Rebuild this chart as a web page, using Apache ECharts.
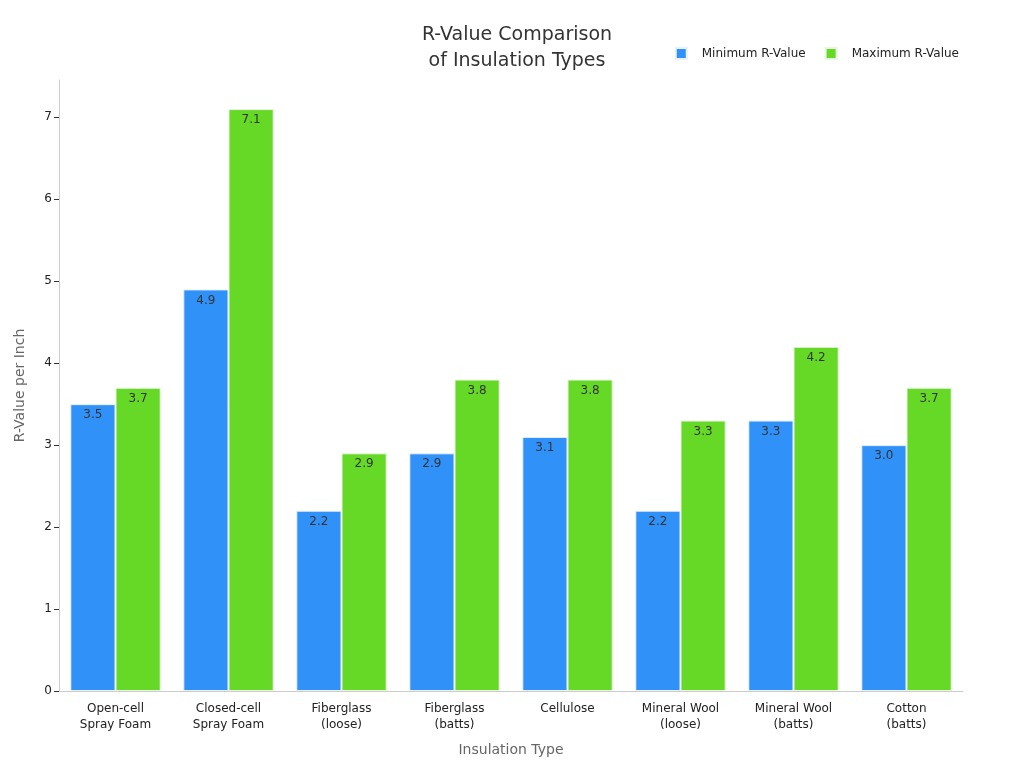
<!DOCTYPE html>
<html>
<head>
<meta charset="utf-8">
<script src="https://cdn.jsdelivr.net/npm/echarts@6/dist/echarts.min.js"></script>
<style>
  html, body { margin: 0; padding: 0; background: #fff; }
  #chart { width: 1024px; height: 768px; }
</style>
</head>
<body>
<div id="chart"></div>
<script>
// R-value comparison, grouped bars
var categories = ['Open-cell\nSpray Foam', 'Closed-cell\nSpray Foam', 'Fiberglass\n(loose)', 'Fiberglass\n(batts)',
                  'Cellulose', 'Mineral Wool\n(loose)', 'Mineral Wool\n(batts)', 'Cotton\n(batts)'];
var minValues = [3.5, 4.9, 2.2, 2.9, 3.1, 2.2, 3.3, 3.0];
var maxValues = [3.7, 7.1, 2.9, 3.8, 3.8, 3.3, 4.2, 3.7];

var chart = echarts.init(document.getElementById('chart'));
var font = 'DejaVu Sans';

var option = {
    textStyle: { fontFamily: font },
    title: {
        text: 'R-Value Comparison\nof Insulation Types',
        left: 512,
        textAlign: 'center',
        top: 17,
        textStyle: { fontFamily: font, fontSize: 19, fontWeight: 'normal', color: '#333', lineHeight: 26 }
    },
    legend: {
        data: ['Minimum R-Value', 'Maximum R-Value'],
        right: 60,
        top: 42,
        icon: 'rect',
        itemWidth: 11,
        itemHeight: 11,
        itemGap: 19,
        textStyle: { fontFamily: font, fontSize: 12, color: '#222', padding: [0, 0, 0, 10] }
    },
    grid: {
        left: 59,
        right: 61,
        top: 80,
        bottom: 77
    },
    xAxis: {
        type: 'category',
        data: categories,
        name: 'Insulation Type',
        nameLocation: 'middle',
        nameGap: 52,
        nameTextStyle: { fontFamily: font, fontSize: 14, color: '#666' },
        axisLine: { lineStyle: { color: '#ccc' } },
        axisTick: { alignWithLabel: true, lineStyle: { color: '#333' } },
        axisLabel: { fontFamily: font, fontSize: 12, color: '#222', lineHeight: 16, interval: 0, margin: 10 }
    },
    yAxis: {
        type: 'value',
        min: 0,
        max: 7.455,
        interval: 1,
        name: 'R-Value per Inch',
        nameLocation: 'middle',
        nameGap: 32,
        nameTextStyle: { fontFamily: font, fontSize: 14, color: '#666' },
        axisLine: { show: true, lineStyle: { color: '#ccc' } },
        axisTick: { show: true, lineStyle: { color: '#333' } },
        splitLine: { show: false },
        axisLabel: {
            fontFamily: font, fontSize: 12, color: '#222', margin: 7,
            showMaxLabel: false
        }
    },
    series: [
        {
            name: 'Minimum R-Value',
            type: 'bar',
            data: minValues,
            barGap: '0%',
            barCategoryGap: '20%',
            itemStyle: { color: '#3092f9', borderColor: '#e8f0f8', borderWidth: 1 },
            label: {
                show: true, position: 'insideTop', distance: 5,
                color: '#333', fontFamily: font, fontSize: 12,
                formatter: function (p) { return p.value.toFixed(1); }
            }
        },
        {
            name: 'Maximum R-Value',
            type: 'bar',
            data: maxValues,
            itemStyle: { color: '#66d927', borderColor: '#e8f5e0', borderWidth: 1 },
            label: {
                show: true, position: 'insideTop', distance: 5,
                color: '#333', fontFamily: font, fontSize: 12,
                formatter: function (p) { return p.value.toFixed(1); }
            }
        }
    ]
};

chart.setOption(option);
window.onresize = function () { chart.resize(); };
</script>
</body>
</html>
